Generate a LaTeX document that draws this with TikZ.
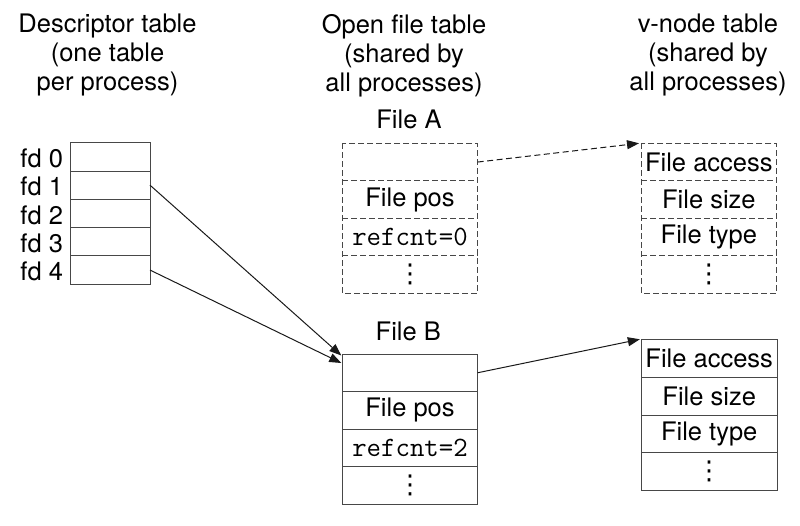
\documentclass[tikz,border=0pt]{standalone}
\usepackage{fontspec}
\setmainfont{TeX Gyre Heros}
\newfontfamily\dejavu{DejaVu Sans}
\usetikzlibrary{arrows.meta}
\newcommand\lblfont{\fontsize{25.5}{29}\selectfont}
\newcommand\rcfont{\fontsize{28}{29}\ttfamily}
\newcommand\vdotsfont{\fontsize{26}{29}\dejavu}
\begin{document}
\begin{tikzpicture}[x=1pt,y=-1pt,
  lbl/.style={font=\lblfont, inner sep=0pt, outer sep=0pt},
  hdr/.style={font=\lblfont, align=center, inner sep=0pt, anchor=north},
  dcell/.style={minimum width=80pt, minimum height=28.3pt, inner sep=0pt, outer sep=0pt},
  fcell/.style={minimum width=135.4pt, minimum height=37.5pt, inner sep=0pt, outer sep=0pt, font=\lblfont},
  vcell/.style={minimum width=135.7pt, minimum height=37.5pt, inner sep=0pt, outer sep=0pt, font=\lblfont},
  vcellb/.style={vcell, minimum height=37.85pt},
  tbl/.style={draw=black!72, line width=0.9pt},
  dtbl/.style={tbl, dash pattern=on 6pt off 3pt},
  conn/.style={draw=black!90, line width=1pt, -{Triangle[length=12pt,width=9pt]}},
  dconn/.style={conn, dash pattern=on 6pt off 3.5pt},
  dotsn/.style={font=\vdotsfont, inner sep=0pt}
]
\useasboundingbox (0,0) rectangle (800,526);

% headers
\node[hdr] (h1) at (107.5,14) {Descriptor table\\(one table\\per process)};
\node[hdr] (h2) at (404,14) {Open file table\\(shared by\\all processes)};
\node[hdr] (h3) at (708,14) {v-node table\\(shared by\\all processes)};

% descriptor table
\foreach \i/\y in {0/156.85,1/185.15,2/213.45,3/241.75,4/270.05}{
  \node[dcell] (d\i) at (110,\y) {};
  \node[lbl, anchor=east] (fd\i) at (63,\y+1.5) {fd \i};
}
\draw[tbl] (d0.north west) rectangle (d4.south east);
\foreach \i in {0,1,2,3}{ \draw[tbl] (d\i.south west) -- (d\i.south east); }

% File A (dashed)
\node[lbl, anchor=base] (fA) at (409,128.3) {File A};
\node[fcell] (a1) at (410,162.05) {};
\node[fcell] (a2) at (410,199.55) {File pos};
\node[fcell, font=\rcfont] (a3) at (410,237.05) {refcnt=0};
\node[fcell, font=\vdotsfont] (a4) at (410,274.55) {⋮};
\draw[dtbl] (a1.north west) rectangle (a4.south east);
\foreach \i in {1,2,3}{ \draw[dtbl] (a\i.south west) -- (a\i.south east); }

% File B
\node[lbl, anchor=base] (fB) at (408.3,341) {File B};
\node[fcell] (b1) at (410,372.75) {};
\node[fcell] (b2) at (410,410.25) {File pos};
\node[fcell, font=\rcfont] (b3) at (410,447.75) {refcnt=2};
\node[fcell, font=\vdotsfont] (b4) at (410,485.25) {⋮};
\draw[tbl] (b1.north west) rectangle (b4.south east);
\foreach \i in {1,2,3}{ \draw[tbl] (b\i.south west) -- (b\i.south east); }

% v-node A (dashed)
\node[vcell] (va1) at (708.85,162.05) {File access};
\node[vcell] (va2) at (708.85,199.55) {File size};
\node[vcell] (va3) at (708.85,237.05) {File type};
\node[vcell, font=\vdotsfont] (va4) at (708.85,274.55) {⋮};
\draw[dtbl] (va1.north west) rectangle (va4.south east);
\foreach \i in {1,2,3}{ \draw[dtbl] (va\i.south west) -- (va\i.south east); }

% v-node B
\node[vcellb] (vb1) at (709.2,358.2) {File access};
\node[vcellb] (vb2) at (709.2,396.05) {File size};
\node[vcellb] (vb3) at (709.2,433.9) {File type};
\node[vcellb, font=\vdotsfont] (vb4) at (709.2,471.75) {⋮};
\draw[tbl] (vb1.north west) rectangle (vb4.south east);
\foreach \i in {1,2,3}{ \draw[tbl] (vb\i.south west) -- (vb\i.south east); }

% connectors
\coordinate (bin2) at ([yshift=-9pt]b1.north west);
\draw[conn] (d1.east) -- ([xshift=-1pt,yshift=-1.5pt]b1.north west);
\draw[conn] (d4.east) -- ([xshift=-1pt]bin2);
\draw[dconn] (a1.east) -- ([xshift=-2pt]va1.north west);
\draw[conn] (b1.east) -- ([xshift=-1.5pt]vb1.north west);
\end{tikzpicture}
\end{document}
